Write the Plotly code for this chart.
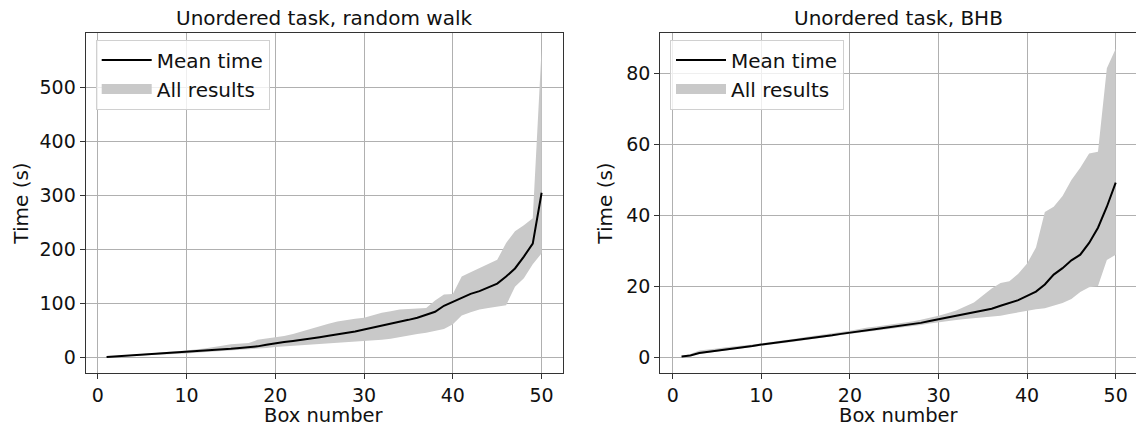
import plotly.graph_objects as go

box = list(range(1, 51))

rw_mean = [1.5, 2.5, 3.5, 4.5, 5.5, 6.5, 7.5, 8.5, 9.5, 10.5,
           12, 13, 14, 15, 16.5, 18, 19.5, 21, 24, 27,
           29, 31, 33, 35.5, 38, 40.5, 43, 45.5, 48.5, 52,
           55.5, 59, 62, 66, 70, 74, 79, 85, 96, 103,
           110, 118, 123, 130, 137, 150, 165, 187, 211, 305]
rw_max = [2, 3.5, 4.5, 5.5, 7, 8, 10, 11, 12, 13,
          15, 17, 19, 22, 25, 26, 27, 33, 35, 37,
          40, 44, 49, 54, 59, 63, 67, 70, 72, 74,
          79, 83, 86, 89, 90, 91, 92, 106, 117, 118,
          150, 158, 166, 174, 181, 212, 234, 245, 258, 572]
rw_min = [1, 1.5, 2.5, 3.5, 4, 5, 5.5, 6.5, 7, 8,
          9, 10, 11, 12, 13, 14, 15, 16, 18, 20,
          21, 22, 23, 24, 26, 27, 28, 29, 30, 30,
          31, 33, 35, 38, 42, 44, 46, 50, 53, 62,
          78, 84, 89, 92, 95, 97, 131, 147, 173, 193]

bhb_mean = [0.3, 0.6, 1.3, 1.6, 1.9, 2.3, 2.6, 3.0, 3.3, 3.7,
            4.0, 4.3, 4.6, 5.0, 5.3, 5.6, 6.0, 6.3, 6.7, 7.1,
            7.4, 7.8, 8.1, 8.4, 8.7, 9.0, 9.4, 9.8, 10.3, 10.8,
            11.2, 11.6, 12.1, 12.6, 13.2, 13.8, 14.6, 15.3, 16.2, 17.4,
            18.6, 20.6, 23.4, 25.2, 27.4, 29.0, 32.3, 36.6, 42.5, 49.3]
bhb_max = [0.4, 1.0, 2.0, 2.4, 2.6, 2.9, 3.1, 3.4, 3.7, 4.0,
           4.3, 4.6, 5.0, 5.4, 5.8, 6.1, 6.4, 6.8, 7.2, 7.6,
           8.1, 8.5, 8.8, 9.1, 9.6, 9.9, 10.2, 10.7, 11.2, 11.8,
           12.5, 13.3, 14.4, 15.5, 17.5, 19.5, 21.0, 21.5, 23.6, 26.5,
           31.0, 41.0, 42.5, 45.5, 50.0, 53.5, 57.5, 58.0, 81.5, 87.0]
bhb_min = [0.2, 0.5, 1.0, 1.4, 1.7, 2.0, 2.3, 2.7, 3.0, 3.4,
           3.7, 4.0, 4.3, 4.6, 5.0, 5.3, 5.7, 6.0, 6.4, 6.7,
           7.0, 7.3, 7.6, 7.9, 8.2, 8.5, 8.8, 9.2, 9.6, 10.0,
           10.3, 10.6, 10.9, 11.1, 11.3, 11.5, 11.8, 12.3, 12.8, 13.3,
           13.6, 13.9, 14.6, 15.4, 16.5, 18.5, 19.8, 20.2, 27.5, 29.0]

x_ticks = [0, 10, 20, 30, 40, 50]
rw_y_ticks = [0, 100, 200, 300, 400, 500]
bhb_y_ticks = [0, 20, 40, 60, 80]

titles = ["Unordered task, random walk", "Unordered task, BHB"]
x_title = "Box number"
y_title = "Time (s)"
mean_name = "Mean time"
band_name = "All results"

W, H = 1136, 427
FONT = "DejaVu Sans"
FILL = "#c9c9c9"
GRID = "#b0b0b0"
SPINE = "#333333"
TXT = "#111111"

fig = go.Figure()


def add_panel(xa, ya, legend, mean, lo, hi):
    fig.add_trace(go.Scatter(x=box, y=lo, mode="lines", line=dict(width=0),
                             showlegend=False, hoverinfo="skip",
                             xaxis=xa, yaxis=ya))
    fig.add_trace(go.Scatter(x=box, y=hi, mode="lines", line=dict(width=0),
                             fill="tonexty", fillcolor=FILL,
                             showlegend=False, hoverinfo="skip",
                             xaxis=xa, yaxis=ya))
    fig.add_trace(go.Scatter(x=box, y=mean, mode="lines", name=mean_name,
                             line=dict(color="black", width=2),
                             legend=legend, xaxis=xa, yaxis=ya))
    fig.add_trace(go.Scatter(x=[None], y=[None], mode="lines", name=band_name,
                             line=dict(color=FILL, width=13),
                             legend=legend, xaxis=xa, yaxis=ya))


add_panel("x", "y", "legend", rw_mean, rw_min, rw_max)
add_panel("x2", "y2", "legend2", bhb_mean, bhb_min, bhb_max)


def px_x(p):
    return p / W


def px_y(p):
    return 1 - p / H


top_px, bot_px = 32.7, 373.3
ydom = [px_y(bot_px), px_y(top_px)]
left_dom = [px_x(85.7), px_x(563.2)]
right_dom = [px_x(660.3), 1.0]

axis_common = dict(showgrid=True, gridcolor=GRID, gridwidth=1,
                   showline=True, linecolor=SPINE, linewidth=1.2,
                   ticks="outside", ticklen=5, tickcolor=SPINE, tickwidth=1,
                   zeroline=False, automargin=False,
                   tickfont=dict(family=FONT, size=19, color=TXT),
                   title_font=dict(family=FONT, size=20, color=TXT))

legend_common = dict(xanchor="left", yanchor="top", traceorder="normal",
                     itemwidth=50,
                     bgcolor="rgba(255,255,255,0.8)", bordercolor="#d0d0d0",
                     borderwidth=1, font=dict(family=FONT, size=20, color=TXT))


def label(text, xc, yc, size=20, pad=1):
    return dict(text=text, x=xc, y=yc, xref="paper", yref="paper",
                showarrow=False, xanchor="center", yanchor="middle",
                borderpad=pad, font=dict(family=FONT, size=size, color=TXT))


fig.update_layout(
    width=W, height=H,
    margin=dict(l=0, r=0, t=0, b=0),
    paper_bgcolor="white", plot_bgcolor="white",
    font=dict(family=FONT, size=19, color=TXT),
    xaxis=dict(domain=left_dom, range=[-1.35, 52.43],
               tickvals=x_ticks, mirror=True, anchor="y", **axis_common),
    yaxis=dict(domain=ydom, range=[-28.8, 600.8], tickvals=rw_y_ticks,
               mirror=True, anchor="x",
               title=dict(text=y_title, standoff=5), **axis_common),
    xaxis2=dict(domain=right_dom, range=[-1.40, 52.29],
                tickvals=x_ticks, mirror=True, anchor="y2", **axis_common),
    yaxis2=dict(domain=ydom, range=[-4.4, 91.5], tickvals=bhb_y_ticks,
                mirror=False, anchor="x2",
                title=dict(text=y_title, standoff=8), **axis_common),
    legend=dict(x=px_x(95.7), y=px_y(39.5), **legend_common),
    legend2=dict(x=px_x(670), y=px_y(39.5), **legend_common),
    annotations=[
        label(titles[0], sum(left_dom) / 2, px_y(17.5)),
        label(titles[1], (right_dom[0] + px_x(1137)) / 2, px_y(17.5)),
        label(x_title, sum(left_dom) / 2, px_y(415.3), size=19.5, pad=0),
        label(x_title, (right_dom[0] + px_x(1137)) / 2, px_y(415.3),
              size=19.5, pad=0),
    ],
)

fig.write_html("out.html")
